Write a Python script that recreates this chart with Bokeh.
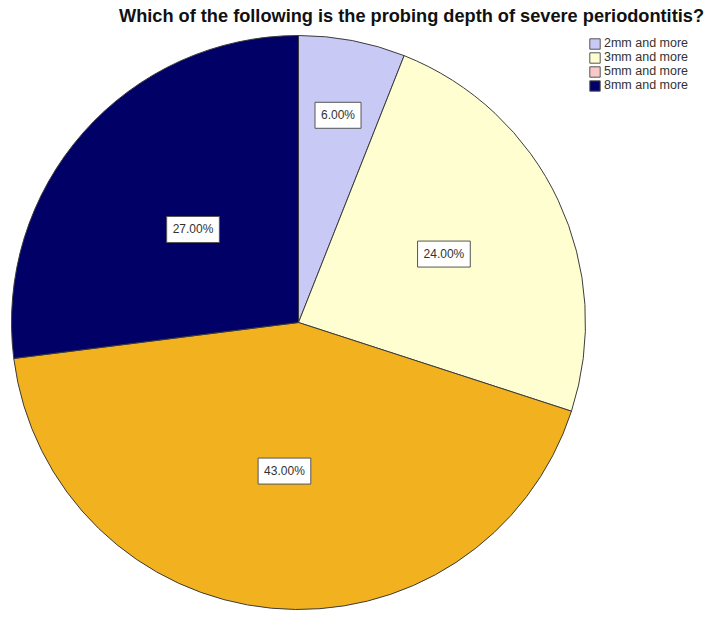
import math

from bokeh.core.properties import value
from bokeh.embed import file_html
from bokeh.models import ColumnDataSource, Legend, LegendItem, Range1d
from bokeh.plotting import figure
from bokeh.resources import INLINE

# Survey answers and their shares (percent)
categories = ["2mm and more", "3mm and more", "5mm and more", "8mm and more"]
percentages = [6.00, 24.00, 43.00, 27.00]
slice_colors = ["#c9c9f6", "#fefed0", "#f2b21f", "#000066"]
legend_colors = ["#c9c9f6", "#fefed0", "#f9c8c8", "#000066"]
label_radius_frac = [0.735, 0.56, 0.52, 0.49]

W, H = 709, 638
CX, CY, R = 298, H - 322, 287

p = figure(width=W, height=H, output_backend="svg", toolbar_location=None,
           x_range=Range1d(0, W), y_range=Range1d(0, H), min_border=0)
p.axis.visible = False
p.grid.visible = False
p.outline_line_color = None
p.background_fill_color = "white"
p.border_fill_color = "white"

# Slices start at 12 o'clock and run clockwise
total = sum(percentages)
starts, ends, lx, ly, texts = [], [], [], [], []
cum = 0.0
for pct, frac in zip(percentages, label_radius_frac):
    a0 = math.pi / 2 - 2 * math.pi * cum / total
    cum += pct
    a1 = math.pi / 2 - 2 * math.pi * cum / total
    starts.append(a1)
    ends.append(a0)
    mid = (a0 + a1) / 2
    lx.append(CX + frac * R * math.cos(mid))
    ly.append(CY + frac * R * math.sin(mid))
    texts.append(f"{pct:.2f}%")

src = ColumnDataSource(dict(start=starts, end=ends, color=slice_colors,
                            lx=lx, ly=ly, label=texts))
p.wedge(x=CX, y=CY, radius=R, start_angle="start", end_angle="end",
        direction="anticlock", fill_color="color", line_color="#3c3c3c",
        line_width=1, source=src)

p.text(x="lx", y="ly", text="label", source=src, text_align="center",
       text_baseline="middle", text_font=value("Liberation Sans"),
       text_font_size="12px", text_color="#333333",
       background_fill_color="white", border_line_color="#555555",
       border_line_width=1, padding=6)

# Title
p.text(x=[411], y=[H - 15], text=["Which of the following is the probing depth of severe periodontitis?"],
       text_align="center", text_baseline="middle", text_font=value("Liberation Sans"),
       text_font_style="bold", text_font_size="18.2px", text_color="#111111")

# Legend with its own swatches
items = []
for name, col in zip(categories, legend_colors):
    r = p.rect(x=[float("nan")], y=[float("nan")], width=1, height=1,
               fill_color=col, line_color="#555555")
    items.append(LegendItem(label=name, renderers=[r]))
legend = Legend(items=items, location=(588, 546), glyph_width=13, glyph_height=13,
                label_text_font="Liberation Sans", label_text_font_size="12.5px",
                label_text_color="#333333", label_height=14, spacing=0,
                label_standoff=3, padding=0, margin=0,
                border_line_color=None, background_fill_alpha=0)
p.add_layout(legend, "center")

open("out.html", "w").write(file_html(p, INLINE))
